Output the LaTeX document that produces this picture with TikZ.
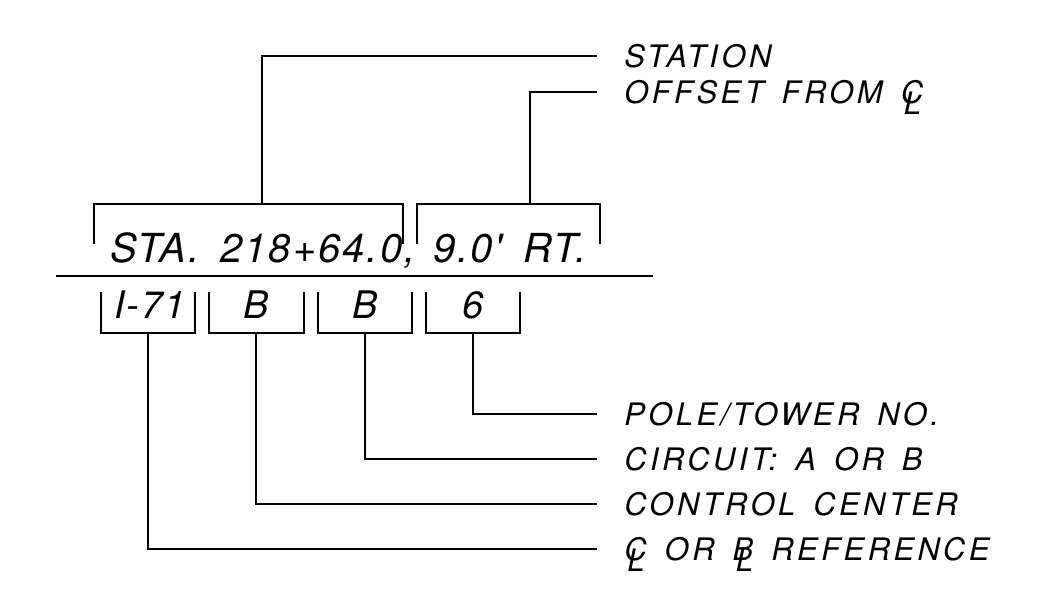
\documentclass[tikz,border=0pt]{standalone}
\usepackage{fontspec}
\newfontfamily\cadfont[LetterSpace=5,WordSpace=1.6]{TeX Gyre Heros}
\newfontfamily\cadwide[LetterSpace=11,WordSpace=1.5]{TeX Gyre Heros}
\newcommand{\stationfont}{\cadfont\itshape\fontsize{40}{40}\selectfont}
\newcommand{\fieldfont}{\cadfont\itshape\fontsize{38}{38}\selectfont}
\newcommand{\calloutfont}{\cadwide\itshape\fontsize{31}{31}\selectfont}
% centre line / baseline mark: letter with an L set low over it
\newcommand{\clsym}[1]{\rlap{\kern0.1em\raisebox{-0.38em}{L}}#1}

\begin{document}
\begin{tikzpicture}[x=1pt,y=-1pt,line width=2.7pt,
  callout/.style={anchor=west,inner sep=0pt,text height=22.3pt,text depth=0pt,font=\calloutfont},
  field/.style={anchor=base,inner sep=0pt,font=\fieldfont},
  stafield/.style={anchor=base west,inner sep=0pt,font=\stationfont}]
\useasboundingbox (0,0) rectangle (1045,591);

\draw (56,276) -- (653,276);

\node[stafield] (sta) at (109,262) {STA. 218+64.0,};
\node[stafield] (rt) at (432,262) {9.0' RT.};

\draw (94,244) -- (94,204) -- (403,204) -- (403,244);
\draw (417,244) -- (417,204) -- (600,204) -- (600,244);
\coordinate (staleg) at (262,204);
\coordinate (offleg) at (530,204);

\node[field] (route) at (150,318) {I-71};
\node[field] (centre) at (256,318) {B};
\node[field] (circ) at (365,318) {B};
\node[field] (poleno) at (473,318) {6};

\draw (101,292) -- (101,333) -- (195,333) -- (195,292);
\draw (209,292) -- (209,333) -- (304,333) -- (304,292);
\draw (318,292) -- (318,333) -- (412,333) -- (412,292);
\draw (426,292) -- (426,333) -- (520,333) -- (520,292);
\coordinate (routeleg) at (148,333);
\coordinate (centreleg) at (256,333);
\coordinate (circleg) at (365,333);
\coordinate (poleleg) at (473,333);

\node[callout] (station) at (623,56) {STATION};
\node[callout] (offset) at (623,92) {OFFSET FROM \clsym{C}};
\node[callout] (pole) at (623,414) {POLE/TOWER NO.};
\node[callout] (circuit) at (623,459) {CIRCUIT: A OR B};
\node[callout] (control) at (623,504) {CONTROL CENTER};
\node[callout] (reference) at (623,549) {\clsym{C} OR \clsym{B} REFERENCE};

\draw (staleg) |- ([xshift=-26pt]station.west);
\draw (offleg) |- ([xshift=-26pt]offset.west);
\draw (poleleg) |- ([xshift=-26pt]pole.west);
\draw (circleg) |- ([xshift=-26pt]circuit.west);
\draw (centreleg) |- ([xshift=-26pt]control.west);
\draw (routeleg) |- ([xshift=-26pt]reference.west);

\end{tikzpicture}
\end{document}
